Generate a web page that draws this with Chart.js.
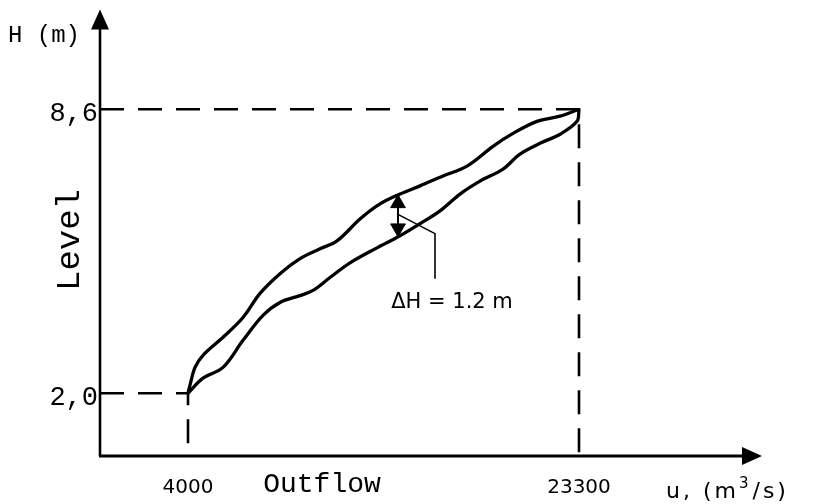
<!DOCTYPE html>
<html>
<head>
<meta charset="utf-8">
<script src="https://cdn.jsdelivr.net/npm/chart.js@4/dist/chart.umd.min.js"></script>
<style>
  html, body { margin: 0; padding: 0; background: #fff; }
  canvas { display: block; }
</style>
</head>
<body>
<canvas id="c" width="820" height="504"></canvas>
<script>
// ticks
const tickU = [4000, 23300];
const tickH = [2.0, 8.6];

// upper branch of the loop (u in m3/s, H in m)
const upperU = [4000, 4099, 4346, 4740, 5728, 6715, 7554, 8541, 9528, 10516, 11355, 12490, 13477, 14464, 15452, 16587, 17771, 19055, 20042, 21227, 22362, 23300];
const upperH = [2.00, 2.19, 2.60, 2.88, 3.30, 3.76, 4.32, 4.78, 5.13, 5.36, 5.54, 6.05, 6.40, 6.63, 6.82, 7.05, 7.28, 7.74, 8.04, 8.32, 8.44, 8.60];

// lower branch
const lowerU = [4000, 4740, 5728, 6715, 7702, 8541, 9528, 10170, 11009, 11996, 13329, 14464, 15452, 16439, 17426, 18413, 19548, 20387, 21374, 22362, 23201, 23300];
const lowerH = [2.00, 2.35, 2.60, 3.23, 3.81, 4.11, 4.27, 4.39, 4.69, 5.03, 5.38, 5.66, 5.94, 6.24, 6.63, 6.93, 7.21, 7.56, 7.81, 8.02, 8.32, 8.60];

// delta H marker and its leader
const arrowU = [14366, 14366];
const arrowH = [6.61, 5.64];
const leaderU = [14316, 16192, 16192];
const leaderH = [6.17, 5.71, 4.66];
const noteU = 17031, noteH = 4.11;

const uMin = -344, uMax = 32333;
const hMin = 0.541, hMax = 10.92;

const pts = (xs, ys) => xs.map((x, i) => ({ x: x, y: ys[i] }));
const fmtH = v => v.toFixed(1).replace('.', ',');

const headOff = 0.197; // arrow head radius in H units
const arrowHeads = [
  { x: arrowU[0], y: arrowH[0] - headOff },
  { x: arrowU[1], y: arrowH[1] + headOff }
];

// axes with arrow tips + all the texts
const decor = {
  id: 'decor',
  afterDraw(chart) {
    const ctx = chart.ctx;
    const a = chart.chartArea;
    const xs = chart.scales.x, ys = chart.scales.y;
    ctx.save();
    ctx.strokeStyle = '#000';
    ctx.fillStyle = '#000';
    ctx.lineWidth = 2.6;
    ctx.beginPath();
    ctx.moveTo(a.left, a.bottom);
    ctx.lineTo(a.left, a.top + 10);
    ctx.stroke();
    ctx.lineWidth = 3.2;
    ctx.beginPath();
    ctx.moveTo(a.left - 1, a.bottom);
    ctx.lineTo(a.right - 10, a.bottom);
    ctx.stroke();
    ctx.beginPath();
    ctx.moveTo(a.left, a.top);
    ctx.lineTo(a.left - 9, a.top + 20);
    ctx.lineTo(a.left + 9, a.top + 20);
    ctx.closePath();
    ctx.fill();
    ctx.beginPath();
    ctx.moveTo(a.right, a.bottom);
    ctx.lineTo(a.right - 20, a.bottom - 9);
    ctx.lineTo(a.right - 20, a.bottom + 9);
    ctx.closePath();
    ctx.fill();

    // y tick labels
    ctx.font = '27px "Liberation Mono"';
    ctx.textAlign = 'right';
    ctx.textBaseline = 'middle';
    tickH.forEach(v => ctx.fillText(fmtH(v), a.left - 2, ys.getPixelForValue(v) + 5));

    // x tick labels
    ctx.font = '20px "DejaVu Sans"';
    ctx.textAlign = 'center';
    tickU.forEach(v => ctx.fillText(String(v), xs.getPixelForValue(v), a.bottom + 32));

    // axis names
    ctx.font = '24px "Liberation Mono"';
    ctx.textAlign = 'left';
    ctx.fillText('H (m)', 8, 36);
    ctx.font = '28px "Liberation Mono"';
    ctx.textAlign = 'center';
    ctx.fillText('Outflow', 322, a.bottom + 29);
    ctx.save();
    ctx.translate(70, 240);
    ctx.rotate(-Math.PI / 2);
    ctx.font = '34px "Liberation Mono"';
    ctx.fillText('Level', 0, 0);
    ctx.restore();

    // unit on x axis
    ctx.font = '22px "DejaVu Sans"';
    ctx.textAlign = 'left';
    ctx.textBaseline = 'alphabetic';
    ctx.letterSpacing = '3px';
    let x = 666;
    const yb = a.bottom + 42;
    ctx.fillText('u, (m', x, yb);
    x += ctx.measureText('u, (m').width;
    ctx.font = '15px "DejaVu Sans"';
    ctx.fillText('3', x, yb - 10);
    x += ctx.measureText('3').width + 1;
    ctx.font = '22px "DejaVu Sans"';
    ctx.fillText('/s)', x, yb);
    ctx.letterSpacing = '0px';

    // delta H note
    ctx.font = '21px "DejaVu Sans"';
    ctx.textAlign = 'center';
    ctx.textBaseline = 'middle';
    ctx.fillText('\u0394H = 1.2 m', xs.getPixelForValue(noteU), ys.getPixelForValue(noteH));
    ctx.restore();
  }
};

const guide = { borderColor: '#000', borderWidth: 2.6, borderDash: [24, 14], pointRadius: 0, showLine: true, fill: false, clip: false };

new Chart(document.getElementById('c'), {
  type: 'scatter',
  data: {
    datasets: [
      Object.assign({ data: [{ x: uMin, y: tickH[1] }, { x: tickU[1], y: tickH[1] }, { x: tickU[1], y: hMin }] }, guide),
      Object.assign({ data: [{ x: uMin, y: tickH[0] }, { x: tickU[0], y: tickH[0] }, { x: tickU[0], y: hMin }] }, guide),
      { data: pts(upperU, upperH), showLine: true, borderColor: '#000', borderWidth: 3.3, pointRadius: 0, tension: 0.35, clip: false },
      { data: pts(lowerU, lowerH), showLine: true, borderColor: '#000', borderWidth: 3.3, pointRadius: 0, tension: 0.35, clip: false },
      { data: pts(arrowU, arrowH), showLine: true, borderColor: '#000', borderWidth: 2, pointRadius: 0 },
      { data: arrowHeads, showLine: false, pointStyle: 'triangle', pointRadius: 8.5, pointRotation: [0, 180], backgroundColor: '#000', borderColor: '#000', borderWidth: 1 },
      { data: pts(leaderU, leaderH), showLine: true, borderColor: '#000', borderWidth: 1.6, pointRadius: 0 }
    ]
  },
  options: {
    responsive: false,
    animation: false,
    events: [],
    layout: { padding: { left: 100, right: 58, top: 8, bottom: 48 } },
    plugins: { legend: { display: false }, tooltip: { enabled: false } },
    scales: {
      x: { type: 'linear', display: false, min: uMin, max: uMax },
      y: { type: 'linear', display: false, min: hMin, max: hMax }
    }
  },
  plugins: [decor]
});
</script>
</body>
</html>
